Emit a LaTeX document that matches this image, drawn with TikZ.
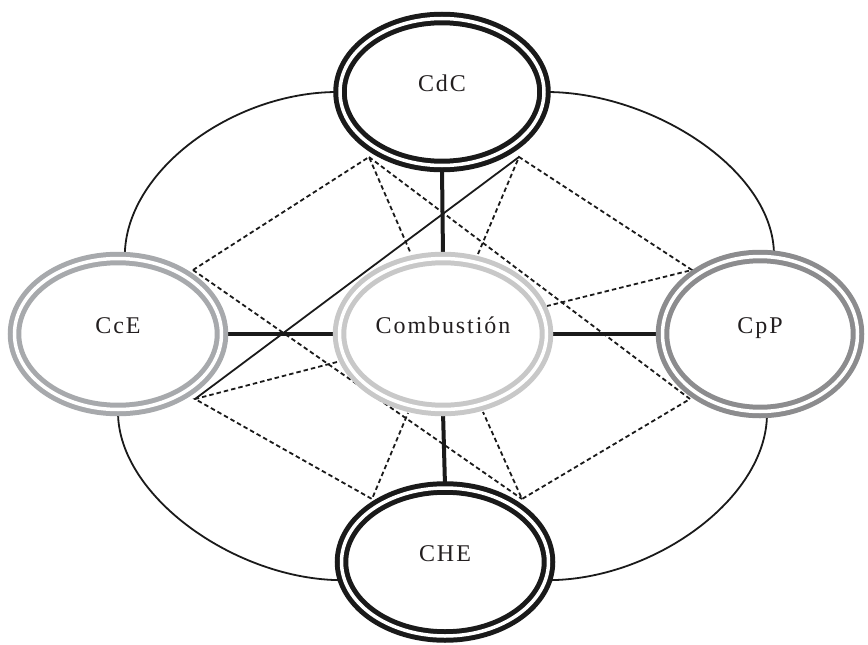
\documentclass[tikz,border=0pt]{standalone}
\usepackage{fontspec}
\setmainfont{Liberation Serif}
\newfontfamily\labelfont[LetterSpace=8]{Liberation Serif}
\usetikzlibrary{shapes.geometric,backgrounds}
\definecolor{ringdark}{HTML}{1A1A1A}
\definecolor{ringmid}{HTML}{8C8C8E}
\definecolor{ringgray}{HTML}{A7A9AC}
\definecolor{ringlight}{HTML}{C8C8C8}
\definecolor{inkc}{HTML}{231F20}
\begin{document}
\begin{tikzpicture}[x=1pt,y=-1pt,
  ring/.style={ellipse, inner sep=0pt, fill=white, line width=5pt,
    double=white, double distance=3.5pt, text=inkc,
    font=\labelfont\fontsize{24}{24}\selectfont,
    text height=16pt, text depth=17pt},
  thickcon/.style={line width=4pt, draw=ringdark},
  thincon/.style={line width=1.8pt, draw=ringdark},
  dashcon/.style={line width=1.8pt, draw=ringdark, dash pattern=on 4.5pt off 3pt}]
\useasboundingbox (0,0) rectangle (868,645);
\node[ring, draw=ringdark, minimum width=204pt, minimum height=147pt] (CdC) at (442,92) {CdC};
\node[ring, draw=ringlight, minimum width=207pt, minimum height=151pt] (Comb) at (443,334) {Combustión};
\node[ring, draw=ringdark, minimum width=207pt, minimum height=148pt] (CHE) at (445,562) {CHE};
\node[ring, draw=ringgray, minimum width=207pt, minimum height=151pt] (CcE) at (118,334) {CcE};
\node[ring, draw=ringmid, minimum width=195pt, minimum height=155pt] (CpP) at (760,334) {CpP};
\coordinate (P1) at (369,157);
\coordinate (P2) at (519,157);
\coordinate (Q1) at (193,270);
\coordinate (Q2) at (195,399);
\coordinate (R1) at (692,270);
\coordinate (R2) at (690,399);
\coordinate (S1) at (372,499);
\coordinate (S2) at (522,499);
\coordinate (CT1) at (411,254);
\coordinate (CT2) at (478,254);
\coordinate (CR) at (547,306);
\coordinate (CL) at (337,362);
\coordinate (CB1) at (408,413);
\coordinate (CB2) at (483,412);
\begin{scope}[on background layer]
\draw[thickcon] (CdC.south) -- (Comb.north);
\draw[thickcon] (Comb.south) -- (CHE.north);
\draw[thickcon] (CcE.east) -- (Comb.west);
\draw[thickcon] (Comb.east) -- (CpP.west);
\draw[thincon] (CdC.west) .. controls +(-105,0) and +(0,-85) .. (CcE.85);
\draw[thincon] (CdC.east) .. controls +(105,0) and +(0,-85) .. (CpP.80);
\draw[thincon] (CcE.270) .. controls +(0,85) and +(-105,0) .. (CHE.190);
\draw[thincon] (CpP.275) .. controls +(0,85) and +(105,0) .. (CHE.-10);
\draw[thincon] (P2) -- (Q2);
\draw[dashcon] (Q1) -- (P1) -- (CT1);
\draw[dashcon] (P1) -- (R2) -- (S2) -- (CB2);
\draw[dashcon] (CT2) -- (P2) -- (R1) -- (CR);
\draw[dashcon] (Q1) -- (S2);
\draw[dashcon] (CL) -- (Q2) -- (S1) -- (CB1);
\end{scope}
\end{tikzpicture}
\end{document}
